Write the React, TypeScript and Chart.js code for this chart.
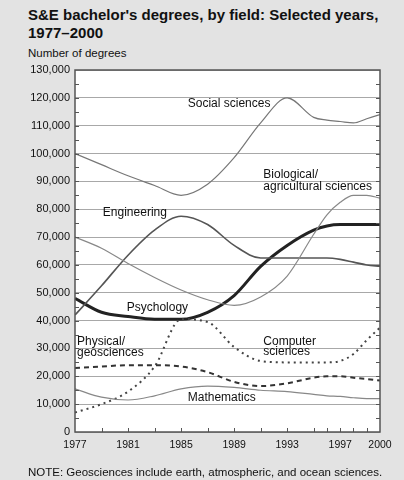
import React, { useEffect, useRef } from "react";
import { Chart, registerables } from "chart.js";

Chart.register(...registerables);

const years = [1977, 1979, 1981, 1983, 1985, 1987, 1989, 1991, 1993, 1995, 1996, 1997, 1998, 1999, 2000];
const socialSciences = [100000, 96000, 92000, 88500, 85000, 89000, 98500, 111000, 120000, 113000, 112000, 111500, 111000, 112500, 114000];
const bioAgSciences = [70000, 66000, 60500, 55500, 51000, 47500, 45500, 48500, 56000, 71000, 78000, 82500, 85000, 85000, 84000];
const engineering = [42000, 52500, 63500, 72500, 77500, 74500, 67000, 62500, 62500, 62500, 62500, 62000, 61000, 60000, 59500];
const psychology = [48000, 43000, 41500, 40500, 40500, 43000, 49000, 59500, 67000, 72500, 74000, 74500, 74500, 74500, 74500];
const computerSciences = [7000, 10000, 14500, 23500, 40500, 39500, 30500, 25500, 25000, 25000, 25000, 25500, 28000, 33000, 37500];
const physicalGeosciences = [23000, 23500, 24000, 24000, 23500, 21500, 18000, 16500, 17500, 19500, 20000, 20000, 19500, 19000, 18500];
const mathematics = [15500, 12500, 11500, 13000, 15500, 16500, 16000, 15000, 14500, 13500, 13000, 12800, 12300, 12000, 12000];
const xTickYears = [1977, 1981, 1985, 1989, 1993, 1997, 2000];

const titleLines = ["S&E bachelor's degrees, by field: Selected years,", "1977–2000"];
const yAxisTitle = "Number of degrees";
const noteText = "NOTE: Geosciences include earth, atmospheric, and ocean sciences.";

// series label anchors: [text, year, value]
const seriesLabels: [string, number, number][] = [
  ["Social sciences", 1985.5, 118000],
  ["Biological/", 1991.2, 92300],
  ["agricultural sciences", 1991.2, 88000],
  ["Engineering", 1979.1, 78600],
  ["Psychology", 1980.9, 44500],
  ["Physical/", 1977.15, 32300],
  ["geosciences", 1977.15, 28400],
  ["Computer", 1991.2, 32300],
  ["sciences", 1991.2, 28700],
  ["Mathematics", 1985.5, 12200],
];

const FONT = "'Liberation Sans', Arial, sans-serif";

const toPoints = (vals: number[]) => vals.map((v, i) => ({ x: years[i], y: v }));

export default function App() {
  const ref = useRef<HTMLCanvasElement>(null);

  useEffect(() => {
    document.body.style.margin = "0";
    const canvas = ref.current!;
    const decor = {
      id: "decor",
      beforeDraw(chart: any) {
        const { ctx, chartArea: a } = chart;
        ctx.save();
        ctx.fillStyle = "#ffffff";
        ctx.fillRect(a.left, a.top, a.right - a.left, a.bottom - a.top);
        ctx.restore();
      },
      afterDatasetsDraw(chart: any) {
        const { ctx, chartArea: a, scales } = chart;
        ctx.save();
        ctx.fillStyle = "#111";
        ctx.font = `12px ${FONT}`;
        ctx.textAlign = "left";
        ctx.textBaseline = "middle";
        for (const [t, yr, v] of seriesLabels) {
          ctx.fillText(t, scales.x.getPixelForValue(yr), scales.y.getPixelForValue(v));
        }
        ctx.strokeStyle = "#555";
        ctx.lineWidth = 1;
        ctx.beginPath();
        for (let v = 5000; v < 130000; v += 5000) {
          const y = Math.round(scales.y.getPixelForValue(v)) + 0.5;
          ctx.moveTo(a.left, y);
          ctx.lineTo(a.left + 4, y);
          ctx.moveTo(a.right, y);
          ctx.lineTo(a.right - 4, y);
        }
        for (const yr of years) {
          if (yr === 1977 || yr === 2000) continue;
          const x = Math.round(scales.x.getPixelForValue(yr)) + 0.5;
          ctx.moveTo(x, a.bottom);
          ctx.lineTo(x, a.bottom - 4);
        }
        ctx.stroke();
        ctx.strokeStyle = "#555";
        ctx.lineWidth = 1.5;
        ctx.strokeRect(a.left, a.top, a.right - a.left, a.bottom - a.top);
        ctx.restore();
      },
    };

    const mk = (label: string, vals: number[], color: string, width: number, dash: number[] = []) => ({
      label,
      data: toPoints(vals),
      borderColor: color,
      borderWidth: width,
      borderDash: dash,
      pointRadius: 0,
      fill: false,
      cubicInterpolationMode: "monotone" as const,
    });

    const chart = new Chart(canvas, {
      type: "line",
      data: {
        datasets: [
          mk("Social sciences", socialSciences, "#777", 1.2),
          mk("Biological/agricultural sciences", bioAgSciences, "#888", 1.2),
          mk("Engineering", engineering, "#555", 1.6),
          mk("Mathematics", mathematics, "#888", 1.2),
          mk("Physical/geosciences", physicalGeosciences, "#333", 2, [5, 4]),
          mk("Computer sciences", computerSciences, "#444", 2, [2, 4]),
          mk("Psychology", psychology, "#222", 3),
        ],
      },
      options: {
        animation: false,
        responsive: false,
        layout: { padding: { top: 70, right: 24, left: 0, bottom: 0 } },
        plugins: { legend: { display: false }, tooltip: { enabled: false } },
        scales: {
          x: {
            type: "linear",
            min: 1977,
            max: 2000,
            afterFit: (s: any) => {
              s.height = 48;
            },
            afterBuildTicks: (s: any) => {
              s.ticks = xTickYears.map((v) => ({ value: v }));
            },
            ticks: {
              autoSkip: false,
              maxRotation: 0,
              padding: 7,
              color: "#111",
              font: { family: FONT, size: 10.5 },
              callback: (v: any) => String(v),
            },
            grid: { display: false, drawTicks: false, tickLength: 0 },
            border: { display: false },
          },
          y: {
            min: 0,
            max: 130000,
            afterFit: (s: any) => {
              s.width = 75;
            },
            ticks: {
              stepSize: 10000,
              padding: 5,
              color: "#111",
              font: { family: FONT, size: 11 },
              callback: (v: any) => Number(v).toLocaleString("en-US"),
            },
            grid: { color: "#a8a8a8", lineWidth: 1, drawTicks: false, tickLength: 0 },
            border: { display: false },
          },
        },
      },
      plugins: [decor],
    });
    return () => chart.destroy();
  }, []);

  return (
    <div style={{ position: "relative", width: 404, height: 480, background: "#e3e3e3", overflow: "hidden", fontFamily: FONT }}>
      <div style={{ position: "absolute", left: 28, top: 6, fontSize: 15, fontWeight: "bold", lineHeight: "18px", color: "#111", whiteSpace: "nowrap" }}>
        {titleLines.map((t) => (
          <div key={t}>{t}</div>
        ))}
      </div>
      <div style={{ position: "absolute", left: 28, top: 46, fontSize: 11.5, lineHeight: "14px", color: "#111", whiteSpace: "nowrap" }}>
        {yAxisTitle}
      </div>
      <canvas ref={ref} width={404} height={480} style={{ position: "absolute", left: 0, top: 0 }} />
      <div style={{ position: "absolute", left: 28, top: 465, fontSize: 11.5, lineHeight: "14px", color: "#111", whiteSpace: "nowrap" }}>
        {noteText}
      </div>
    </div>
  );
}
